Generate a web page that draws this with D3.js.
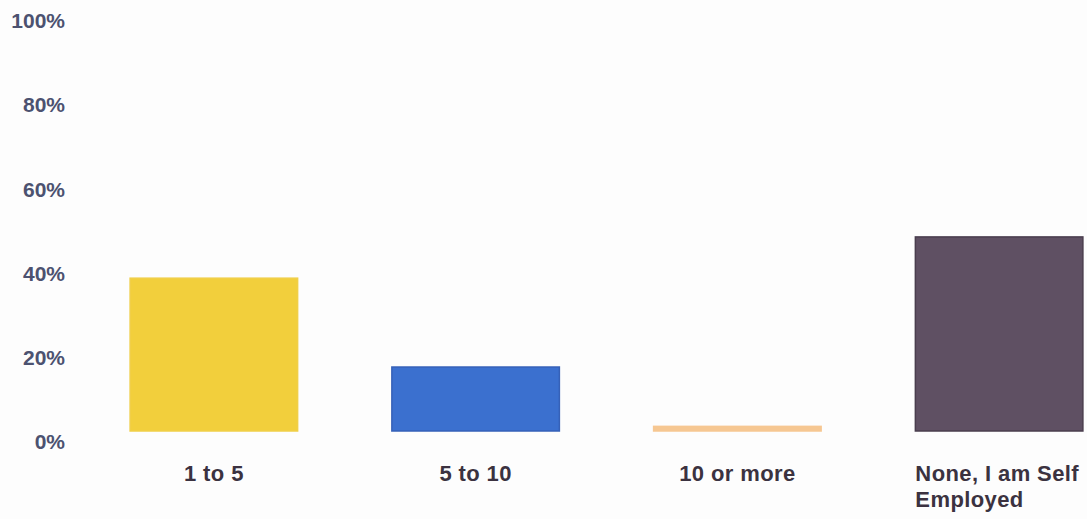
<!DOCTYPE html>
<html>
<head>
<meta charset="utf-8">
<script src="https://cdn.jsdelivr.net/npm/d3@7"></script>
<style>
  html, body { margin: 0; padding: 0; background: #fdfdfd; }
  svg { display: block; }
</style>
</head>
<body>
<svg id="chart" width="1087" height="519"></svg>
<script>
// Number of employees: share of respondents
const categories = ["1 to 5", "5 to 10", "10 or more", "None, I am Self Employed"];
const values = [36.3, 15.2, 1.1, 46.1];
const barColors = ["#f2cf3c", "#3b70cf", "#f6c792", "#5f5063"];
const barStrokes = ["#f0cf48", "#3661b8", "#f6c792", "#4a3e4e"];
const tickValues = [0, 20, 40, 60, 80, 100];

const svg = d3.select("#chart");

const y = d3.scaleLinear().domain([0, 100]).range([431, 10]);
const x = d3.scaleBand()
  .domain(categories)
  .range([83, 1130])
  .paddingInner(0.36)
  .paddingOuter(0.18);

// Y axis labels only (no line, no ticks, no gridlines)
const yAxis = d3.axisLeft(y)
  .tickValues(tickValues)
  .tickFormat(d => d + "%")
  .tickSize(0)
  .tickPadding(0);

const gy = svg.append("g")
  .attr("transform", "translate(65,0)")
  .call(yAxis);
gy.select(".domain").remove();
gy.selectAll("text")
  .attr("dy", "0.32em")
  .attr("y", 11)
  .style("font-family", "'Liberation Sans', Arial, sans-serif")
  .style("font-size", "21px")
  .style("font-weight", "bold")
  .style("fill", "#4c5270");

// Bars
svg.append("g")
  .selectAll("rect")
  .data(categories)
  .join("rect")
  .attr("x", d => x(d))
  .attr("width", x.bandwidth())
  .attr("y", (d, i) => y(values[i]))
  .attr("height", (d, i) => y(0) - y(values[i]))
  .attr("fill", (d, i) => barColors[i])
  .attr("stroke", (d, i) => barStrokes[i])
  .attr("stroke-width", 1.5);

// Category labels, wrapped to the bar width
const labelFont = "bold 22px 'Liberation Sans', Arial, sans-serif";
const measure = document.createElement("canvas").getContext("2d");
measure.font = labelFont;

function wrapWords(text, maxWidth) {
  const words = text.split(" ");
  const lines = [];
  let line = "";
  words.forEach(w => {
    const test = line ? line + " " + w : w;
    if (measure.measureText(test).width > maxWidth && line) {
      lines.push(line);
      line = w;
    } else {
      line = test;
    }
  });
  if (line) lines.push(line);
  return lines;
}

const labels = svg.append("g")
  .selectAll("text")
  .data(categories)
  .join("text")
  .style("font", labelFont)
  .style("letter-spacing", "0.4px")
  .style("fill", "#3b3240");

labels.each(function(d) {
  const lines = wrapWords(d, x.bandwidth());
  const t = d3.select(this);
  const multi = lines.length > 1;
  t.attr("text-anchor", multi ? "start" : "middle");
  lines.forEach((ln, k) => {
    t.append("tspan")
      .attr("x", multi ? x(d) : x(d) + x.bandwidth() / 2)
      .attr("y", 481 + k * 26)
      .text(ln);
  });
});
</script>
</body>
</html>
